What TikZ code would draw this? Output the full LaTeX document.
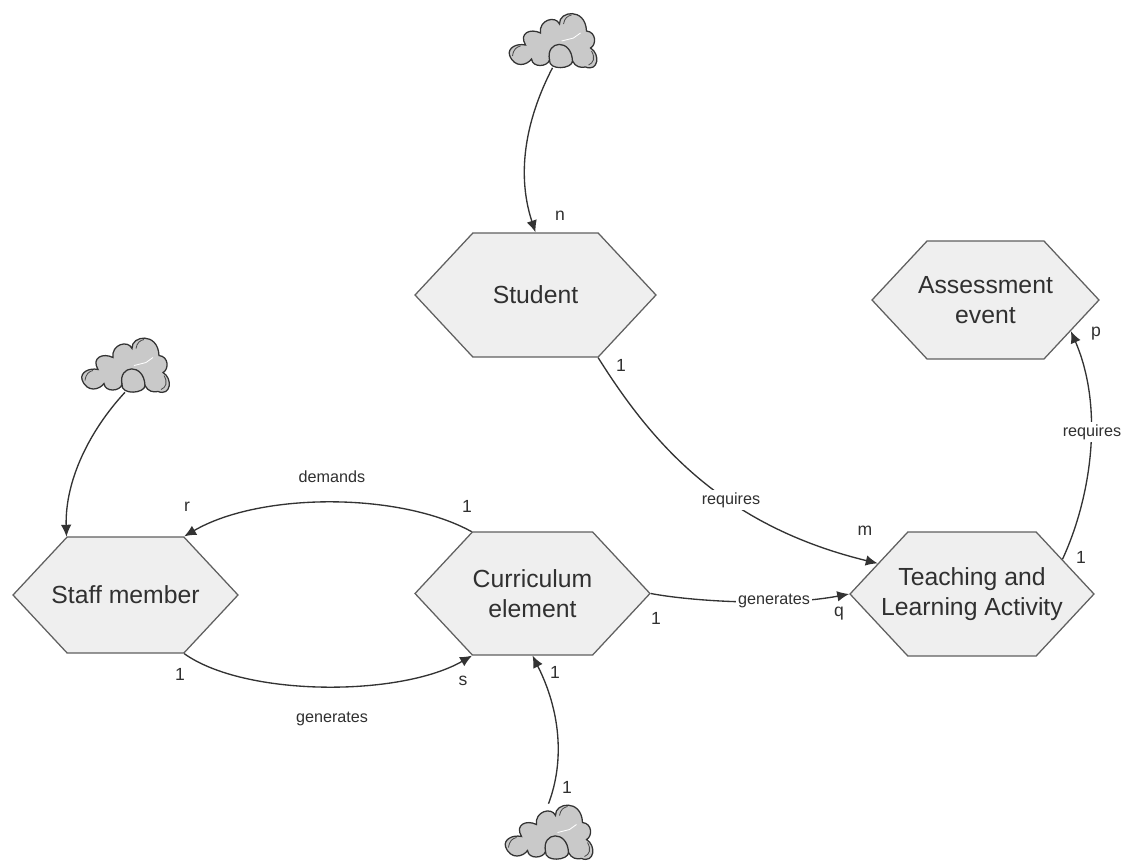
\documentclass[tikz,border=0pt]{standalone}
\usepackage{fontspec}
\setmainfont{Liberation Sans}
\usetikzlibrary{shapes.geometric, shapes.symbols, arrows, arrows.meta}
\definecolor{hexfill}{HTML}{EFEFEF}
\definecolor{hexedge}{HTML}{606060}
\definecolor{cloudfill}{HTML}{C9C9C9}
\definecolor{inktext}{HTML}{303030}
\tikzstyle{hexbox} =
[signal, signal to=east and west, signal pointer angle=94, inner sep=0pt,
draw=hexedge, line width=0.9pt, fill=hexfill]
\tikzstyle{hextext} =
[align=center, text=inktext, font=\fontsize{17.6}{21.5}\selectfont, inner sep=0pt]
\tikzstyle{cardinal} =
[text=inktext, font=\fontsize{12.5}{15}\selectfont, inner sep=0pt]
\tikzstyle{relation} =
[text=inktext, font=\fontsize{11.5}{14}\selectfont, inner sep=1.5pt, fill=white]
\tikzstyle{cloudspot} =
[minimum width=87*0.711pt, minimum height=55*0.711pt, inner sep=0pt]
\tikzstyle{line} = [draw=black!80, line width=0.95pt, -{Latex[length=8.5pt, width=7.5pt]}]
\tikzset{sketchcloud/.pic={
  % outline, clockwise from the lower left bump
  \draw [fill=cloudfill, draw=black!80, line width=0.9pt]
    (-21,19) .. controls (-25,25) and (-38,29) .. (-43,15)
    .. controls (-45,8) and (-36,3) .. (-27,5)
    .. controls (-34,-7) and (-22,-12) .. (-12,-7)
    .. controls (-14,-20) and (3,-25) .. (7,-16)
    .. controls (6,-29) and (33,-33) .. (34,-9)
    .. controls (44,-8) and (44,5) .. (38,8)
    .. controls (48,14) and (46,32) .. (33,27)
    .. controls (28,28) and (23,27) .. (20,21)
    .. controls (20,29) and (-4,31) .. (-3,20)
    .. controls (-5,27) and (-20,28) .. (-21,19) -- cycle;
  % inner strokes
  \draw [black!80, line width=0.9pt]
    (-3,20) .. controls (-7,0) and (19,-2) .. (20,21);
  \draw [black!70, line width=0.6pt] (-40,16) .. controls (-39,9) and (-36,7) .. (-32,6);
  \draw [black!70, line width=0.6pt] (39,11) .. controls (43,18) and (41,23) .. (36,25);
  \draw [black!70, line width=0.6pt] (11,-16) .. controls (12,-22) and (15,-24) .. (19,-25);
  \draw [white, line width=0.6pt] (9,1) -- (21,-2) -- (28,-7);
}}
\begin{document}
\begin{tikzpicture}[x=0.025cm, y=-0.025cm]
  \useasboundingbox (0,0) rectangle (1126,864);
  % hexagons
  \node [hexbox, minimum width=241*0.711pt, minimum height=124*0.711pt,
    label={[hextext]center:Student}] (student) at (535.5,295) {};
  \node [hexbox, minimum width=227*0.711pt, minimum height=118*0.711pt,
    label={[hextext]center:Assessment\\event}] (assess) at (985.5,300) {};
  \node [hexbox, minimum width=225*0.711pt, minimum height=116*0.711pt,
    label={[hextext]center:Staff member}] (staff) at (125.5,595) {};
  \node [hexbox, minimum width=235*0.711pt, minimum height=123*0.711pt,
    label={[hextext]center:Curriculum\\element}] (curric) at (532.5,593.5) {};
  \node [hexbox, minimum width=244*0.711pt, minimum height=124*0.711pt,
    label={[hextext]center:Teaching and\\Learning Activity}] (teach) at (972,594) {};
  % clouds
  \node [cloudspot] (cloudtop) at (552.5,40) {};
  \node [cloudspot] (cloudleft) at (125,364.5) {};
  \node [cloudspot] (cloudbottom) at (548.5,831.5) {};
  \pic at (cloudtop) {sketchcloud};
  \pic at (cloudleft) {sketchcloud};
  \pic at (cloudbottom) {sketchcloud};
  % edges
  \path [line] (cloudtop.south) .. controls (528,115) and (515,170) .. (student.north);
  \path [line] (cloudleft.south) .. controls (90,430) and (65,480) .. (staff.north west);
  \path [line] (cloudbottom.north) .. controls (565,760) and (560,710) .. (curric.south);
  \path [line] (student.-45) .. controls (650,440) and (720,525) .. (teach.162);
  \path [line] (curric.east) .. controls (690,601) and (780,607) .. (teach.west);
  \path [line] (teach.21) .. controls (1090,500) and (1105,410) .. (assess.-20);
  \path [line] (staff.south east) .. controls (245,697) and (400,697) .. (curric.south west);
  \path [line] (curric.north west) .. controls (400,492) and (260,492) .. (staff.north east);
  % edge labels
  \node [relation] (reqstudent) at (731,500) {requires};
  \node [relation] (reqassess) at (1092,432) {requires};
  \node [relation] (gencurric) at (774,601) {generates};
  \node [relation] (genstaff) at (332,719) {generates};
  \node [relation] (demstaff) at (332,477) {demands};
  % cardinalities
  \node [cardinal] (cardn) at (560,216) {n};
  \node [cardinal] (cardstudent) at (621,365) {1};
  \node [cardinal] (cardp) at (1096,334) {p};
  \node [cardinal] (cardteach) at (1081,557) {1};
  \node [cardinal] (cardm) at (865,531) {m};
  \node [cardinal] (cardq) at (839,614) {q};
  \node [cardinal] (cardcurric) at (656,618) {1};
  \node [cardinal] (cardr) at (187,507) {r};
  \node [cardinal] (carddem) at (467,506) {1};
  \node [cardinal] (cardstaff) at (180,674) {1};
  \node [cardinal] (cards) at (463,681) {s};
  \node [cardinal] (cardhead) at (555,672) {1};
  \node [cardinal] (cardtail) at (567,787) {1};
\end{tikzpicture}
\end{document}
